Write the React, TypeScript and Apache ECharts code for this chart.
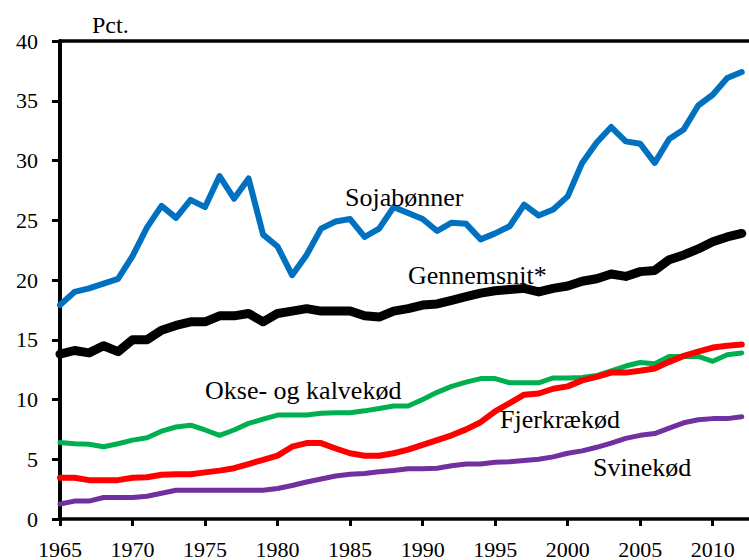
import React, { useEffect, useRef } from "react";
import * as echarts from "echarts";

const years: number[] = [];
for (let y = 1965; y <= 2012; y++) years.push(y);

const sojabonner = [
  17.9, 19.0, 19.3, 19.7, 20.1, 22.0, 24.4, 26.2, 25.2, 26.7,
  26.1, 28.7, 26.8, 28.5, 23.8, 22.8, 20.4, 22.1, 24.3, 24.9,
  25.1, 23.6, 24.3, 26.1, 25.6, 25.1, 24.1, 24.8, 24.7, 23.4,
  23.9, 24.5, 26.3, 25.4, 25.9, 27.0, 29.8, 31.5, 32.8, 31.6,
  31.4, 29.8, 31.8, 32.6, 34.6, 35.5, 36.9, 37.4,
];
const gennemsnit = [
  13.8, 14.1, 13.9, 14.5, 14.0, 15.0, 15.0, 15.8, 16.2, 16.5,
  16.5, 17.0, 17.0, 17.2, 16.5, 17.2, 17.4, 17.6, 17.4, 17.4,
  17.4, 17.0, 16.9, 17.4, 17.6, 17.9, 18.0, 18.3, 18.6, 18.9,
  19.1, 19.2, 19.3, 19.0, 19.3, 19.5, 19.9, 20.1, 20.5, 20.3,
  20.7, 20.8, 21.7, 22.1, 22.6, 23.2, 23.6, 23.9,
];
const okseKalvekod = [
  6.4, 6.3, 6.25, 6.05, 6.3, 6.6, 6.8, 7.35, 7.7, 7.85,
  7.45, 7.0, 7.45, 8.0, 8.35, 8.7, 8.7, 8.7, 8.85, 8.9,
  8.9, 9.05, 9.25, 9.45, 9.45, 10.0, 10.6, 11.1, 11.45, 11.75,
  11.75, 11.4, 11.4, 11.4, 11.8, 11.8, 11.85, 12.0, 12.4, 12.8,
  13.1, 13.0, 13.6, 13.6, 13.6, 13.2, 13.75, 13.9,
];
const fjerkraekod = [
  3.45, 3.45, 3.25, 3.25, 3.25, 3.45, 3.5, 3.7, 3.75, 3.75,
  3.9, 4.05, 4.25, 4.6, 4.95, 5.3, 6.05, 6.35, 6.35, 5.9,
  5.5, 5.3, 5.3, 5.5, 5.8, 6.2, 6.6, 7.0, 7.5, 8.1,
  9.0, 9.7, 10.4, 10.5, 10.9, 11.1, 11.6, 11.9, 12.25, 12.25,
  12.4, 12.6, 13.15, 13.65, 14.0, 14.35, 14.5, 14.6,
];
const svinekod = [
  1.25, 1.5, 1.5, 1.8, 1.8, 1.8, 1.9, 2.15, 2.4, 2.4,
  2.4, 2.4, 2.4, 2.4, 2.4, 2.55, 2.8, 3.1, 3.35, 3.6,
  3.75, 3.8, 3.95, 4.05, 4.2, 4.2, 4.25, 4.45, 4.6, 4.6,
  4.75, 4.8, 4.9, 5.0, 5.2, 5.5, 5.7, 6.0, 6.35, 6.75,
  7.0, 7.15, 7.6, 8.05, 8.3, 8.4, 8.4, 8.55,
];

const seriesNames = ["Sojabønner", "Gennemsnit*", "Okse- og kalvekød", "Fjerkrækød", "Svinekød"];
const yAxisTitle = "Pct.";

const SERIF = "Liberation Serif";

export default function App() {
  const ref = useRef<HTMLDivElement>(null);
  useEffect(() => {
    if (!ref.current) return;
    const chart = echarts.init(ref.current, undefined, { renderer: "svg" });
    const pairs = (vals: number[]) => years.map((y, i) => [y, vals[i]]);
    const line = (name: string, vals: number[], color: string, width: number, z: number) => ({
      name,
      type: "line",
      data: pairs(vals),
      showSymbol: false,
      symbol: "none",
      lineStyle: { color, width, cap: "round", join: "round" },
      itemStyle: { color },
      z,
    });
    const labelText = (text: string, x: number, y: number, size = 26) => ({
      type: "text",
      x,
      y,
      style: {
        text,
        fontFamily: SERIF,
        fontSize: size,
        fill: "#000",
        align: "left",
        verticalAlign: "middle",
      },
      z: 100,
    });
    chart.setOption({
      animation: false,
      backgroundColor: "#fff",
      textStyle: { fontFamily: SERIF },
      grid: { left: 60, right: 0, top: 41, bottom: 40, containLabel: false },
      xAxis: [
        {
          type: "value",
          min: 1965,
          max: 2012.5,
          interval: 5,
          axisLine: { show: true, onZero: false, lineStyle: { color: "#000", width: 3.5 } },
          axisTick: { show: true, length: 7, lineStyle: { color: "#000", width: 3 } },
          axisLabel: {
            margin: 19,
            fontFamily: SERIF,
            fontSize: 22,
            color: "#000",
            showMaxLabel: false,
            formatter: (v: number) => (v % 5 === 0 ? String(v) : ""),
          },
          splitLine: { show: false },
        },
        {
          type: "value",
          position: "top",
          min: 1965,
          max: 2012.5,
          axisLine: { show: true, onZero: false, lineStyle: { color: "#000", width: 3.5 } },
          axisTick: { show: false },
          axisLabel: { show: false },
          splitLine: { show: false },
        },
      ],
      yAxis: {
        type: "value",
        min: 0,
        max: 40,
        interval: 5,
        axisLine: { show: true, lineStyle: { color: "#000", width: 4 } },
        axisTick: { show: true, length: 8, lineStyle: { color: "#000", width: 3 } },
        axisLabel: { margin: 22, fontFamily: SERIF, fontSize: 22, color: "#000" },
        splitLine: { show: false },
      },
      series: [
        line(seriesNames[2], okseKalvekod, "#00B050", 5, 2),
        line(seriesNames[3], fjerkraekod, "#FF0000", 6, 3),
        line(seriesNames[4], svinekod, "#7030A0", 5, 2),
        line(seriesNames[0], sojabonner, "#0070C0", 6, 4),
        line(seriesNames[1], gennemsnit, "#000000", 9, 5),
      ],
      graphic: [
        labelText(yAxisTitle, 92, 25, 24),
        labelText(seriesNames[0], 345, 197),
        labelText(seriesNames[1], 408, 275),
        labelText(seriesNames[2], 205, 390),
        labelText(seriesNames[3], 500, 419),
        labelText(seriesNames[4], 593, 467),
      ],
    });
    return () => chart.dispose();
  }, []);
  return (
    <div
      ref={ref}
      style={{ position: "fixed", left: 0, top: 0, width: 749, height: 560, background: "#fff" }}
    />
  );
}
